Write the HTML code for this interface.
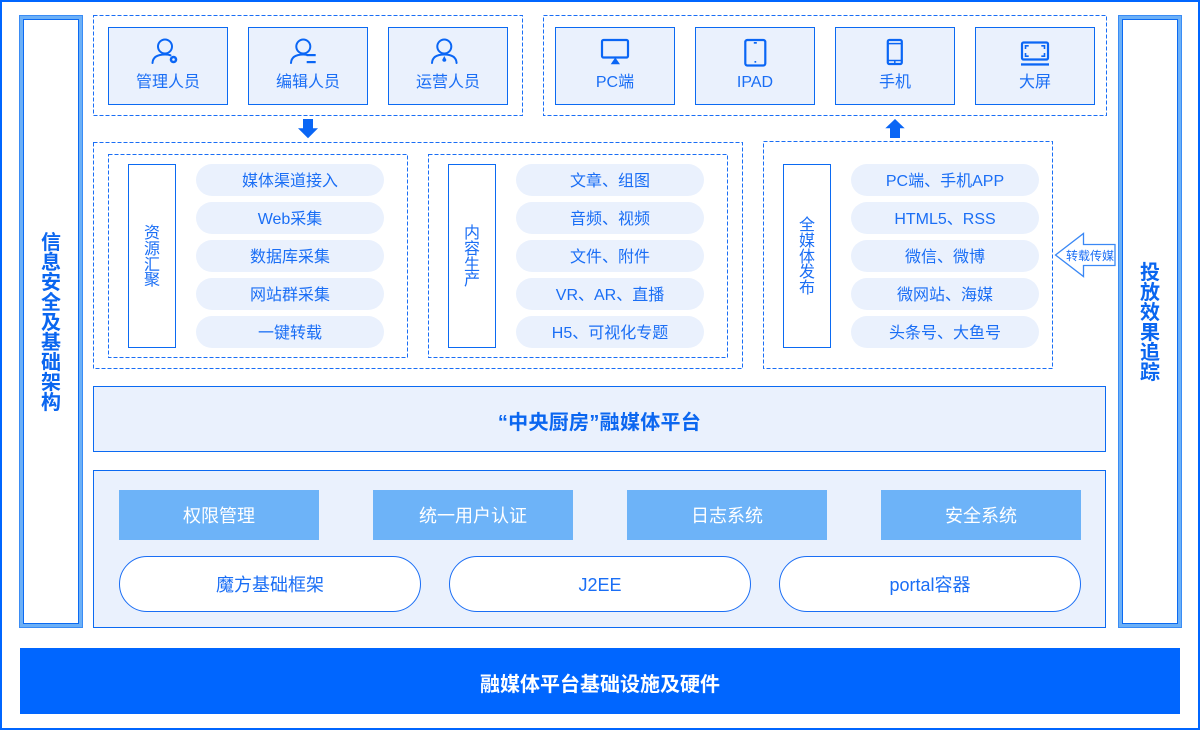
<!DOCTYPE html>
<html><head><meta charset="utf-8">
<style>
*{margin:0;padding:0;box-sizing:border-box}
html,body{width:1200px;height:730px;overflow:hidden;background:#fff}
body{position:relative;font-family:"Liberation Sans","Noto Sans CJK SC",sans-serif;color:#1a6ef5}
.a{position:absolute}
.box{position:absolute;background:#eaf1fd;border:1px solid #0b6af2}
.t16{position:absolute;font-size:16px;line-height:20px;text-align:center;white-space:nowrap}
.pill{position:absolute;width:188px;height:32px;border-radius:16px;background:#eaf1fd;font-size:16px;line-height:35px;text-align:center;white-space:nowrap;color:#1a6ef5}
.lbl{position:absolute;width:48px;height:184px;top:164px;border:1px solid #0b6af2;background:#fff;display:flex;align-items:center;justify-content:center}
.lbl span{display:block;width:17px;font-size:16px;line-height:15.8px;text-align:center;word-break:break-all;margin-top:3px}
.frameP{position:absolute;top:15px;width:64px;height:613px;border:1px solid #3a8cf5;background:#6cb0f7}
.frameP .in{position:absolute;left:3px;top:3px;right:3px;bottom:3px;border:1px solid #0b6af2;background:#fff;display:flex;align-items:center;justify-content:center}
.frameP .in span{display:block;width:21px;font-size:20px;line-height:20px;font-weight:bold;text-align:center;word-break:break-all;color:#0a66f0;margin-top:2px}
.mid{position:absolute;width:200px;height:50px;top:490px;background:#6db3f8;color:#fff;font-size:18px;line-height:52px;text-align:center}
.rp{position:absolute;width:302px;height:56px;top:556px;border:1px solid #1a6ef5;border-radius:28px;background:#fff;font-size:18px;line-height:56px;text-align:center;color:#1a6ef5}
</style></head><body>

<div class="a" style="left:0;top:0;width:1200px;height:730px;border:2px solid #0066ff"></div>

<!-- side frames -->
<div class="frameP" style="left:19px"><div class="in"><span>信息安全及基础架构</span></div></div>
<div class="frameP" style="left:1118px"><div class="in"><span>投放效果追踪</span></div></div>

<!-- top boxes -->
<div class="box" style="left:108px;top:27px;width:120px;height:78px"></div>
<div class="box" style="left:248px;top:27px;width:120px;height:78px"></div>
<div class="box" style="left:388px;top:27px;width:120px;height:78px"></div>
<div class="t16" style="left:108px;top:73px;width:120px">管理人员</div>
<div class="t16" style="left:248px;top:73px;width:120px">编辑人员</div>
<div class="t16" style="left:388px;top:73px;width:120px">运营人员</div>

<div class="box" style="left:555px;top:27px;width:120px;height:78px"></div>
<div class="box" style="left:695px;top:27px;width:120px;height:78px"></div>
<div class="box" style="left:835px;top:27px;width:120px;height:78px"></div>
<div class="box" style="left:975px;top:27px;width:120px;height:78px"></div>
<div class="t16" style="left:555px;top:73px;width:120px">PC端</div>
<div class="t16" style="left:695px;top:73px;width:120px">IPAD</div>
<div class="t16" style="left:835px;top:73px;width:120px">手机</div>
<div class="t16" style="left:975px;top:73px;width:120px">大屏</div>

<!-- label boxes -->
<div class="lbl" style="left:128px"><span>资源汇聚</span></div>
<div class="lbl" style="left:448px"><span>内容生产</span></div>
<div class="lbl" style="left:783px"><span>全媒体发布</span></div>

<!-- pills -->
<div class="pill" style="left:196px;top:164px">媒体渠道接入</div>
<div class="pill" style="left:196px;top:202px">Web采集</div>
<div class="pill" style="left:196px;top:240px">数据库采集</div>
<div class="pill" style="left:196px;top:278px">网站群采集</div>
<div class="pill" style="left:196px;top:316px">一键转载</div>

<div class="pill" style="left:516px;top:164px">文章、组图</div>
<div class="pill" style="left:516px;top:202px">音频、视频</div>
<div class="pill" style="left:516px;top:240px">文件、附件</div>
<div class="pill" style="left:516px;top:278px">VR、AR、直播</div>
<div class="pill" style="left:516px;top:316px">H5、可视化专题</div>

<div class="pill" style="left:851px;top:164px">PC端、手机APP</div>
<div class="pill" style="left:851px;top:202px">HTML5、RSS</div>
<div class="pill" style="left:851px;top:240px">微信、微博</div>
<div class="pill" style="left:851px;top:278px">微网站、海媒</div>
<div class="pill" style="left:851px;top:316px">头条号、大鱼号</div>

<!-- platform -->
<div class="box" style="left:93px;top:386px;width:1013px;height:66px;display:flex;align-items:center;justify-content:center;font-size:20px;font-weight:bold;color:#0a66f0;padding-top:2px;letter-spacing:0.3px">“中央厨房”融媒体平台</div>

<div class="box" style="left:93px;top:470px;width:1013px;height:158px"></div>
<div class="mid" style="left:119px">权限管理</div>
<div class="mid" style="left:373px">统一用户认证</div>
<div class="mid" style="left:627px">日志系统</div>
<div class="mid" style="left:881px">安全系统</div>
<div class="rp" style="left:119px">魔方基础框架</div>
<div class="rp" style="left:449px">J2EE</div>
<div class="rp" style="left:779px">portal容器</div>

<div class="a" style="left:20px;top:648px;width:1160px;height:66px;background:#0066ff;color:#fff;font-size:20px;font-weight:bold;display:flex;align-items:center;justify-content:center;padding-top:2px">融媒体平台基础设施及硬件</div>

<svg class="a" style="left:0;top:0" width="1200" height="730" viewBox="0 0 1200 730">
  <g fill="none" stroke="#1a6ef5" stroke-width="1" stroke-dasharray="4 2">
    <rect x="93.5" y="15.5" width="429" height="100"/>
    <rect x="543.5" y="15.5" width="563" height="100"/>
    <rect x="93.5" y="142.5" width="649" height="226"/>
    <rect x="108.5" y="154.5" width="299" height="203"/>
    <rect x="428.5" y="154.5" width="299" height="203"/>
    <rect x="763.5" y="141.5" width="289" height="227"/>
  </g>
  <!-- arrows -->
  <polygon fill="#0a66f5" points="303,119 313,119 313,128.3 318,128.3 308,138.3 298,128.3 303,128.3"/>
  <polygon fill="#0a66f5" points="890,138 900,138 900,128.3 904.7,128.3 895,119 885.3,128.3 890,128.3"/>
  <polygon fill="#fff" stroke="#3a88f5" stroke-width="1.3" points="1055.5,255 1083.5,233.5 1083.5,244.5 1115,244.5 1115,265.5 1083.5,265.5 1083.5,276.5"/>
  <text x="1090" y="260" font-size="12" text-anchor="middle" fill="#1a6ef5" font-family="Liberation Sans, Noto Sans CJK SC, sans-serif">转载传媒</text>

  <!-- person icons -->
  <g fill="none" stroke="#0a66f5" stroke-width="2" stroke-linecap="round">
    <circle cx="165" cy="46.5" r="7"/>
    <path d="M152.5 63 Q153 54.5 165 54.5 Q168.5 54.5 170.5 55.3"/>
    <circle cx="303.3" cy="46.5" r="7"/>
    <path d="M291 63 Q291.5 54.5 303.3 54.5 Q305.5 54.5 307.5 55"/>
    <circle cx="444.3" cy="46.5" r="7"/>
    <path d="M432 63 Q432.5 54.5 444.3 54.5 Q456 54.5 456.6 63"/>
  </g>
  <g fill="#0a66f5">
    <circle cx="173.5" cy="59.5" r="3.8"/>
    <circle cx="173.5" cy="59.5" r="1.3" fill="#eaf1fd"/>
    <rect x="306.7" y="54" width="9" height="2.2"/>
    <rect x="306.7" y="61" width="9" height="2.2"/>
    <path d="M444.3 56 L446.3 59.8 A2 2 0 1 1 442.3 59.8 Z"/>
  </g>

  <!-- device icons -->
  <g fill="none" stroke="#0a66f5" stroke-width="2.2">
    <rect x="602" y="40" width="26" height="17.5" rx="1.5"/>
    <rect x="745.3" y="40" width="20" height="25.5" rx="2"/>
    <rect x="887.8" y="40" width="14" height="24" rx="1.5"/>
    <line x1="888" y1="43.6" x2="902" y2="43.6" stroke-width="1.5"/>
    <line x1="888" y1="60.5" x2="902" y2="60.5" stroke-width="1.5"/>
    <line x1="894.8" y1="60.5" x2="894.8" y2="64" stroke-width="1.5"/>
    <rect x="1022" y="42.5" width="26" height="17" rx="1.5"/>
  </g>
  <g fill="#0a66f5">
    <polygon points="610.7,64.3 620,64.3 615.3,57.5"/>
    <rect x="753.8" y="42" width="3" height="1.7"/>
    <rect x="754.5" y="61" width="1.7" height="1.7"/>
    <rect x="1021" y="63.3" width="28" height="2.3"/>
  </g>
  <g fill="none" stroke="#0a66f5" stroke-width="1.6">
    <path d="M1025.5 49 V45.8 H1028.7"/>
    <path d="M1041.3 45.8 H1044.5 V49"/>
    <path d="M1025.5 53 V56.2 H1028.7"/>
    <path d="M1041.3 56.2 H1044.5 V53"/>
  </g>
</svg>
</body></html>
